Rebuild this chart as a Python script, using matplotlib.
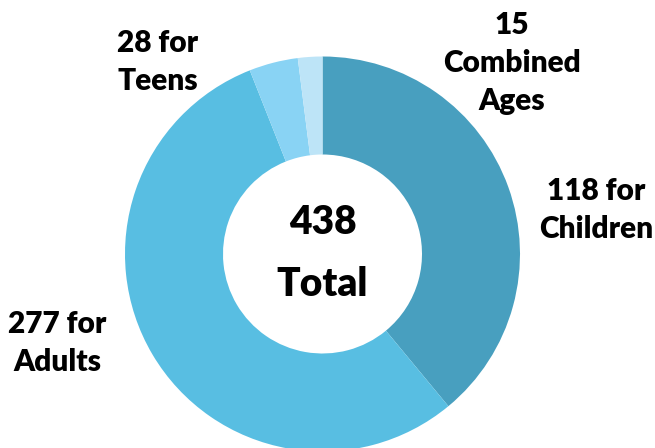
import matplotlib.pyplot as plt

# groups, clockwise from 12 o'clock
groups = ["Children", "Adults", "Teens", "Combined Ages"]
counts = [118, 277, 28, 15]
# wedge sizes as drawn in the picture (percent of the ring)
shares = [39, 55, 4, 2]
colors = ["#489FBF", "#58BEE2", "#89D3F4", "#BDE4F7"]
total = 438

labels = ["118 for\nChildren", "277 for\nAdults", "28 for\nTeens", "15\nCombined\nAges"]

W, H = 655, 448
fig = plt.figure(figsize=(W / 100, H / 100), dpi=100)
ax = fig.add_axes([0, 0, 1, 1])

cx, cy, r = 322.5, H - 254, 197.5
ax.pie(shares, colors=colors, startangle=90, counterclock=False,
       center=(cx, cy), radius=r, wedgeprops=dict(width=r - 99.5, linewidth=0))
ax.set_xlim(0, W)
ax.set_ylim(0, H)
ax.set_aspect("equal")
ax.axis("off")

font = dict(family="Lato", weight="heavy", color="black", ha="center", va="center")
ax.text(cx, H - 222, str(total), fontsize=28, **font)
ax.text(cx, H - 285, "Total", fontsize=28, **font)

# label centres in picture pixels
pos = [(596, 210), (57, 343), (158, 62), (512, 63)]
for lab, (x, y) in zip(labels, pos):
    ax.text(x, H - y, lab, fontsize=21.5, linespacing=1.45, **font)

fig.savefig("out.png", dpi=100)
